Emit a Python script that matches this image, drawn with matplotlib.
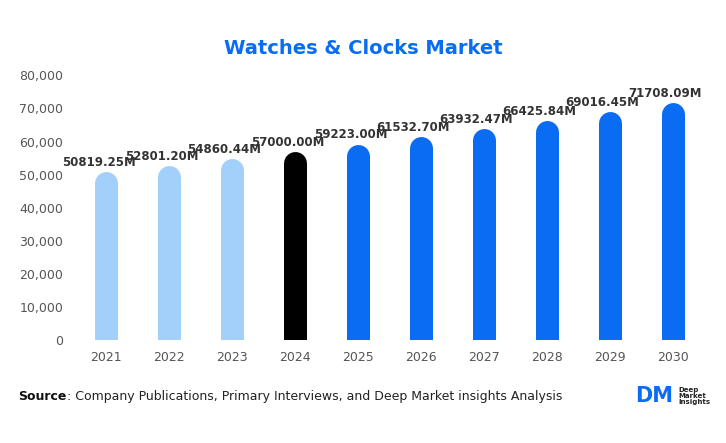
import matplotlib
matplotlib.use("Agg")
import matplotlib.pyplot as plt

years = ["2021","2022","2023","2024","2025","2026","2027","2028","2029","2030"]
values = [50819.25,52801.20,54860.44,57000.00,59223.00,61532.70,63932.47,66425.84,69016.45,71708.09]
labels = ["50819.25M","52801.20M","54860.44M","57000.00M","59223.00M","61532.70M","63932.47M","66425.84M","69016.45M","71708.09M"]
colors = ["#a3cffb"]*3 + ["#000000"] + ["#0a6cf2"]*6

fig = plt.figure(figsize=(7.26,4.43), dpi=100)
ax = fig.add_axes([0.094, 0.232, 0.885, 0.598])
ax.set_xlim(-0.6, 9.6)
ax.set_ylim(0, 80000)
for s in ax.spines.values():
    s.set_visible(False)
ax.tick_params(length=0, colors="#555555", labelsize=9)
ax.set_yticks(range(0, 80001, 10000))
ax.set_yticklabels([f"{v:,}" for v in range(0, 80001, 10000)])
ax.set_xticks(range(len(years)))
ax.set_xticklabels(years)
ax.tick_params(axis="x", pad=8)

bw_px = 23
ypx = ax.get_window_extent().height
r = (bw_px/2) / ypx * 80000
lw_pt = bw_px * 72 / 100
for i, (v, c) in enumerate(zip(values, colors)):
    ax.plot([i, i], [-5000, v - r], color=c, lw=lw_pt, solid_capstyle="round", clip_on=True)
    ax.text(i - 0.12, v + 800, labels[i], ha="center", va="bottom", fontsize=8.5,
            fontweight="bold", color="#333333")

fig.text(0.5, 0.89, "Watches & Clocks Market", ha="center", va="center",
         fontsize=14, fontweight="bold", color="#0a6cf2")
t1 = fig.text(0.025, 0.105, "Source", fontsize=9, fontweight="bold", color="#111111", va="center")
fig.canvas.draw()
bb = t1.get_window_extent()
fig.text(bb.x1 / fig.bbox.width, 0.105,
         ": Company Publications, Primary Interviews, and Deep Market insights Analysis",
         fontsize=9, color="#222222", va="center")
fig.text(0.875, 0.105, "DM", fontsize=15, fontweight="bold", color="#0a6cf2", va="center", ha="left")
fig.text(0.935, 0.105, "Deep\nMarket\nInsights", fontsize=5, fontweight="bold", color="#222222",
         va="center", ha="left", linespacing=1.0)
fig.savefig("out.png", dpi=100)
